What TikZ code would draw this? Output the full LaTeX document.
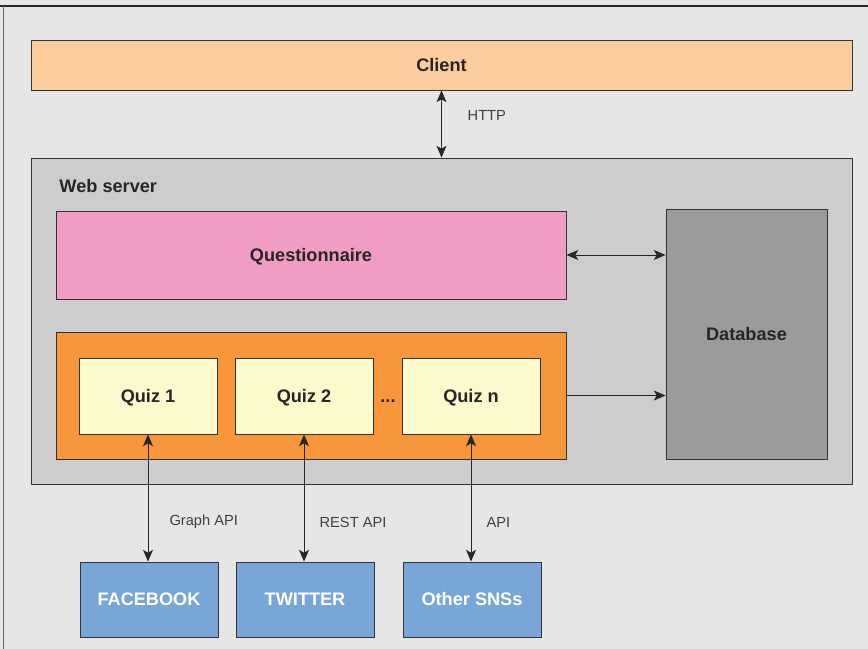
\documentclass[tikz,border=0pt]{standalone}
\usepackage{fontspec}
\setmainfont{Liberation Sans}
\usetikzlibrary{arrows.meta,positioning}
\definecolor{bgcol}{HTML}{E6E6E6}
\definecolor{clientcol}{HTML}{FBCD9E}
\definecolor{servercol}{HTML}{CDCDCD}
\definecolor{questcol}{HTML}{F09CC4}
\definecolor{dbcol}{HTML}{9B9B9B}
\definecolor{quizbgcol}{HTML}{F7963A}
\definecolor{quizcol}{HTML}{FCF9CC}
\definecolor{snscol}{HTML}{78A6D6}
\tikzset{
	box/.style={draw=black!80,line width=0.8pt,rectangle,align=center,inner sep=0pt,
		text height=11pt,text depth=0pt,
		font=\fontsize{15.5}{18}\selectfont\bfseries,text=black!85},
	quiz/.style={box,fill=quizcol,minimum width=4.14cm,minimum height=2.28cm},
	sns/.style={box,fill=snscol,text=white,minimum width=4.14cm,minimum height=2.25cm},
	lbl/.style={font=\fontsize{12.5}{15}\selectfont,text=black!75,anchor=west,inner sep=0pt},
	link/.style={{Stealth[length=10pt,width=8.5pt,inset=2.5pt]}-{Stealth[length=10pt,width=8.5pt,inset=2.5pt]},line width=0.7pt,black!85},
	-link/.style={-{Stealth[length=10pt,width=8.5pt,inset=2.5pt]},line width=0.7pt,black!85}
}

\begin{document}
\begin{tikzpicture}[x=0.03cm,y=-0.03cm]
			\fill[bgcol] (0,0) rectangle (868,649);
			\useasboundingbox (0,0) rectangle (868,649);
			\draw[black!85,line width=1.2pt] (0,6) -- (868,6);
			\draw[black!60,line width=0.8pt] (3,6) -- (3,649);
			
			\node[box,fill=clientcol,minimum width=24.63cm,minimum height=1.5cm] (client) at (441.5,65) {Client};
			\node[box,fill=servercol,minimum width=24.63cm,minimum height=9.78cm] (web) at (441.5,321) {};
			\node[box,anchor=west,draw=none] (webl) at (59,186) {Web server};
			\node[box,fill=questcol,minimum width=15.3cm,minimum height=2.64cm] (quest) at (311,255) {Questionnaire};
			\node[box,fill=dbcol,minimum width=4.83cm,minimum height=7.5cm] (db) at (746.5,334) {Database};
			\node[box,fill=quizbgcol,minimum width=15.3cm,minimum height=3.81cm] (quizzes) at (311,395.5) {};
			\node[quiz] (q1) at (148,396) {Quiz 1};
			\node[quiz] (q2) at (304,396) {Quiz 2};
			\node[quiz] (qn) at (471,396) {Quiz n};
			\node[box,draw=none] (dots) at (388,396) {...};
			\node[sns] (fb) at (149,599.5) {FACEBOOK};
			\node[sns] (tw) at (305,599.5) {TWITTER};
			\node[sns] (other) at (472,599.5) {Other SNSs};
			
			\draw[link] (client) -- (web) node[lbl,pos=0.38,right=22pt] {HTTP};
			\draw[link] (quest.east) -- (db.west |- quest.east);
			\draw[-link] (quizzes.east) -- (db.west |- quizzes.east);
			\draw[link] (q1.south) -- (q1.south |- fb.north) node[lbl,pos=0.69,right=18pt] {Graph API};
			\draw[link] (q2.south) -- (q2.south |- tw.north) node[lbl,pos=0.69,right=13pt] {REST API};
			\draw[link] (qn.south) -- (qn.south |- other.north) node[lbl,pos=0.69,right=13pt] {API};
		\end{tikzpicture}
\end{document}
